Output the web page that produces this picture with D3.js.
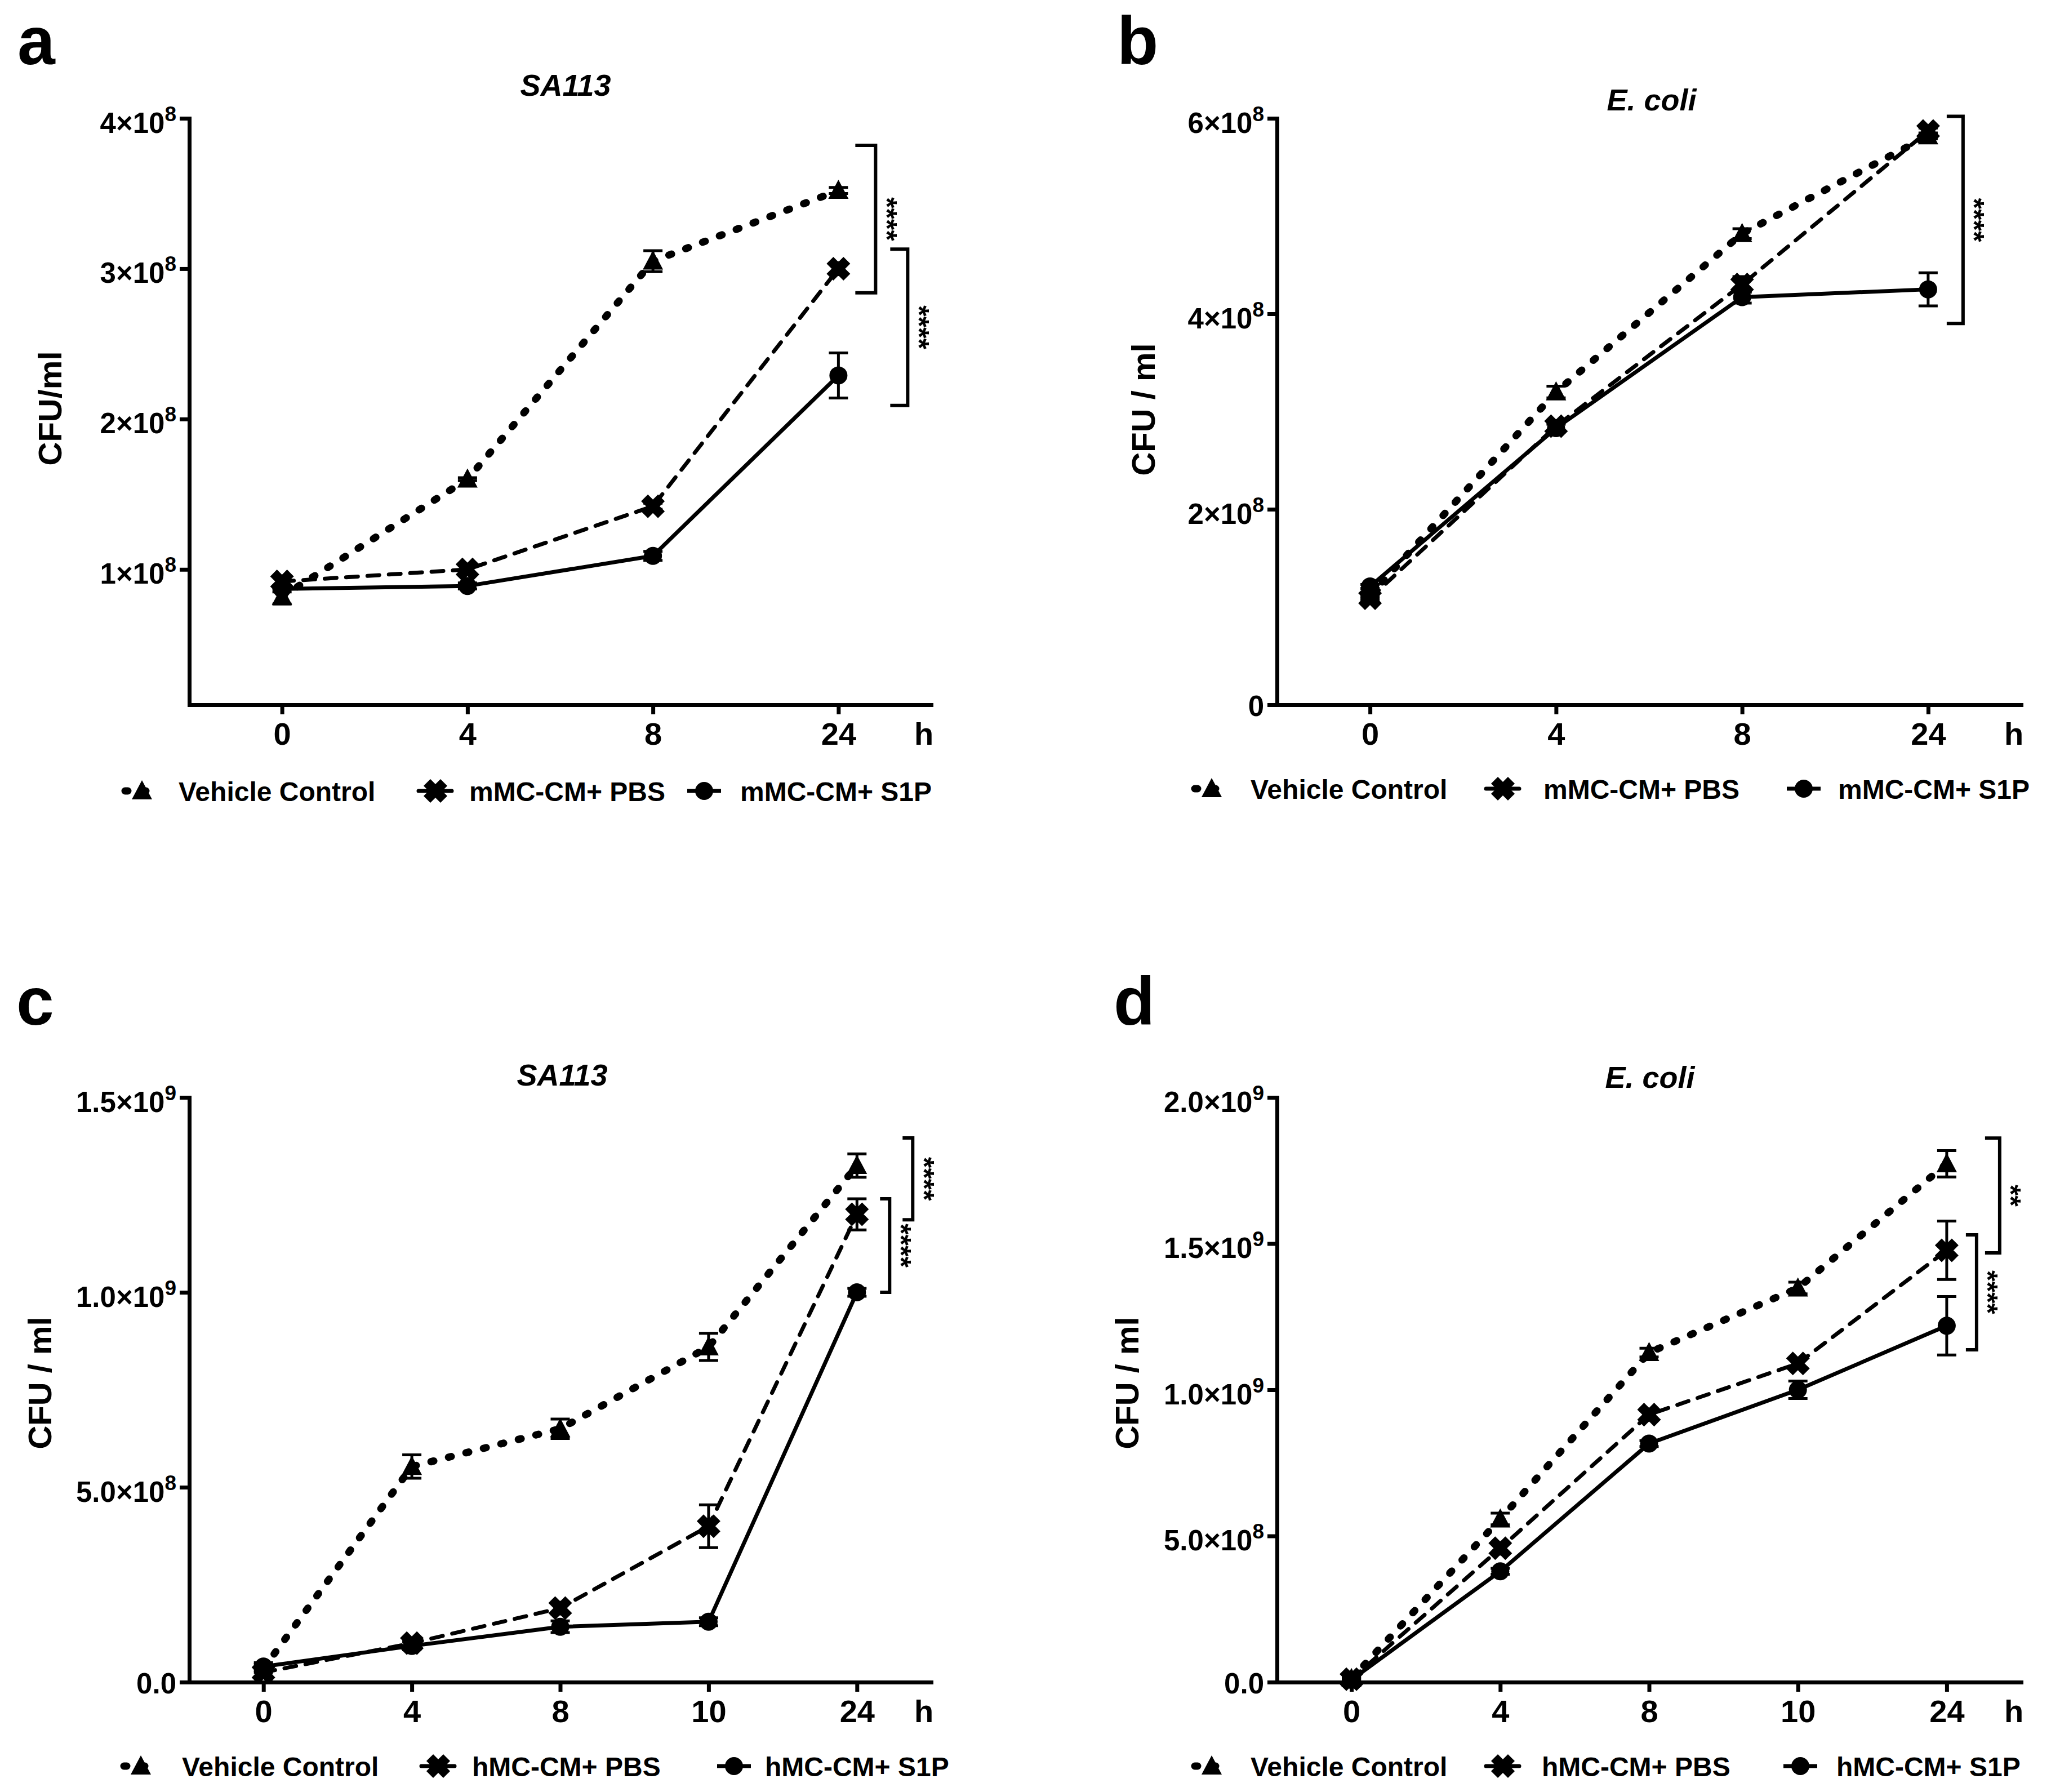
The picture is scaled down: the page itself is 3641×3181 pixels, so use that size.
<!DOCTYPE html>
<html lang="en">
<head>
<meta charset="UTF-8">
<title>CFU growth curves</title>
<style>
  body { margin: 0; background: #fff; }
  svg text { font-family: "Liberation Sans", Arial, sans-serif; font-weight: bold; fill: #000; }
</style>
</head>
<body>
<div id="chart"></div>
<script src="https://cdn.jsdelivr.net/npm/d3@7"></script>
<script>
// time points (h)
const hoursShort = ["0", "4", "8", "24"];
const hoursLong = ["0", "4", "8", "10", "24"];

const namesMouse = ["Vehicle Control", "mMC-CM+ PBS", "mMC-CM+ S1P"];
const namesHuman = ["Vehicle Control", "hMC-CM+ PBS", "hMC-CM+ S1P"];

// a : SA113, mouse MC supernatant (CFU/ml)
const vehicleA = [0.82e8, 1.60e8, 3.05e8, 3.52e8];
const vehicleErrA = [0.05e8, 0.01e8, 0.07e8, 0.02e8];
const pbsA = [0.92e8, 1.00e8, 1.42e8, 3.00e8];
const pbsErrA = [0.03e8, 0.03e8, 0.02e8, 0.04e8];
const s1pA = [0.87e8, 0.89e8, 1.09e8, 2.29e8];
const s1pErrA = [0.02e8, 0.02e8, 0.03e8, 0.15e8];

// b : E. coli, mouse MC supernatant
const vehicleB = [1.12e8, 3.20e8, 4.82e8, 5.82e8];
const vehicleErrB = [0.03e8, 0.06e8, 0.05e8, 0.03e8];
const pbsB = [1.09e8, 2.85e8, 4.30e8, 5.87e8];
const pbsErrB = [0.02e8, 0.05e8, 0.08e8, 0.03e8];
const s1pB = [1.21e8, 2.83e8, 4.17e8, 4.25e8];
const s1pErrB = [0.02e8, 0.04e8, 0.06e8, 0.17e8];

// c : SA113, human MC supernatant
const vehicleC = [0.035e9, 0.553e9, 0.65e9, 0.86e9, 1.325e9];
const vehicleErrC = [0.01e9, 0.03e9, 0.025e9, 0.035e9, 0.03e9];
const pbsC = [0.025e9, 0.10e9, 0.19e9, 0.40e9, 1.20e9];
const pbsErrC = [0.01e9, 0.01e9, 0.015e9, 0.055e9, 0.04e9];
const s1pC = [0.04e9, 0.093e9, 0.142e9, 0.155e9, 1.0e9];
const s1pErrC = [0.01e9, 0.01e9, 0.015e9, 0.01e9, 0.01e9];

// d : E. coli, human MC supernatant
const vehicleD = [0.012e9, 0.558e9, 1.127e9, 1.348e9, 1.773e9];
const vehicleErrD = [0.005e9, 0.02e9, 0.015e9, 0.02e9, 0.045e9];
const pbsD = [0.01e9, 0.458e9, 0.915e9, 1.09e9, 1.477e9];
const pbsErrD = [0.005e9, 0.02e9, 0.015e9, 0.015e9, 0.1e9];
const s1pD = [0.008e9, 0.379e9, 0.816e9, 1.0e9, 1.219e9];
const s1pErrD = [0.005e9, 0.01e9, 0.01e9, 0.03e9, 0.1e9];

// y ticks and their labels [mantissa part, exponent]
const yTicksA = [1e8, 2e8, 3e8, 4e8];
const yLabelsA = [["1×10", "8"], ["2×10", "8"], ["3×10", "8"], ["4×10", "8"]];
const yTicksB = [0, 2e8, 4e8, 6e8];
const yLabelsB = [["0", ""], ["2×10", "8"], ["4×10", "8"], ["6×10", "8"]];
const yTicksC = [0, 5e8, 1e9, 1.5e9];
const yLabelsC = [["0.0", ""], ["5.0×10", "8"], ["1.0×10", "9"], ["1.5×10", "9"]];
const yTicksD = [0, 5e8, 1e9, 1.5e9, 2e9];
const yLabelsD = [["0.0", ""], ["5.0×10", "8"], ["1.0×10", "9"], ["1.5×10", "9"], ["2.0×10", "9"]];

// significance brackets (value range at 24 h)
const bracketsA = [{ top: 3.82e8, bottom: 2.84e8, stars: "****" }, { top: 3.13e8, bottom: 2.09e8, stars: "****" }];
const bracketsB = [{ top: 6.02e8, bottom: 3.90e8, stars: "****" }];
const bracketsC = [{ top: 1.396e9, bottom: 1.186e9, stars: "****" }, { top: 1.24e9, bottom: 1.0e9, stars: "****" }];
const bracketsD = [{ top: 1.861e9, bottom: 1.468e9, stars: "**" }, { top: 1.53e9, bottom: 1.137e9, stars: "****" }];

// line / marker styles: vehicle dotted, PBS dashed, S1P solid
const styles = [
  { dash: "5,27", width: 13, marker: "triangle" },
  { dash: "21,17", width: 7, marker: "cross" },
  { dash: null, width: 7, marker: "circle" }
];

const svg = d3.select("#chart").append("svg")
  .attr("width", 3641).attr("height", 3181)
  .style("background", "#fff");

const drawMarker = (g, type, cx, cy) => {
  if (type === "triangle") {
    g.append("path").attr("d", `M${cx},${cy - 19}L${cx + 18},${cy + 15}L${cx - 18},${cy + 15}Z`).attr("fill", "#000");
  } else if (type === "cross") {
    g.append("path")
      .attr("d", `M${cx - 15},${cy - 15}L${cx + 15},${cy + 15}M${cx - 15},${cy + 15}L${cx + 15},${cy - 15}`)
      .attr("stroke", "#000").attr("stroke-width", 17).attr("fill", "none");
  } else {
    g.append("circle").attr("cx", cx).attr("cy", cy).attr("r", 16).attr("fill", "#000");
  }
};

const drawPanel = (p) => {
  const g = svg.append("g");
  const x = d3.scalePoint().domain(p.hours).range([p.left, p.right]).padding(0.5);
  const y = d3.scaleLinear().domain(p.yDomain).range([p.bottom, p.top]);

  // y axis
  const gy = g.append("g").attr("transform", `translate(${p.left},0)`)
    .call(d3.axisLeft(y).tickValues(p.yTicks).tickSize(17).tickSizeOuter(0).tickPadding(6).tickFormat(() => ""));
  gy.selectAll(".tick text").each(function (d, i) {
    const t = d3.select(this).attr("dy", null).attr("font-size", 51);
    const lab = p.yLabels[i];
    t.attr("y", lab[1] ? 25 : 19);
    t.append("tspan").text(lab[0]);
    if (lab[1]) t.append("tspan").attr("dy", -21).attr("font-size", 37).text(lab[1]);
  });

  // x axis
  const gx = g.append("g").attr("transform", `translate(0,${p.bottom})`)
    .call(d3.axisBottom(x).tickSize(17).tickSizeOuter(0).tickPadding(14));
  gx.selectAll(".tick text").attr("font-size", 56);

  [gx, gy].forEach(a => {
    a.attr("font-family", null).attr("font-size", null);
    a.select(".domain").attr("stroke-width", 7).attr("stroke-linecap", "square");
    a.selectAll(".tick line").attr("stroke-width", 7);
  });

  g.append("text").attr("x", p.right - 30).attr("y", p.bottom + 71)
    .attr("font-size", 56).text("h");

  // panel letter, title, y label
  g.append("text").attr("x", p.letterX).attr("y", p.letterY).attr("font-size", 120).text(p.letter);
  g.append("text").attr("x", p.titleX).attr("y", p.titleY).attr("text-anchor", "middle")
    .attr("font-size", 54).attr("font-style", "italic").text(p.title);
  g.append("text").attr("transform", `translate(${p.ylabX},${p.ylabY}) rotate(-90)`)
    .attr("text-anchor", "middle").attr("dy", "0.36em").attr("font-size", 58).text(p.ylab);

  // lines
  const line = d3.line().x((d, i) => x(p.hours[i])).y(d => y(d));
  p.series.forEach((s, k) => {
    const st = styles[k];
    g.append("path").attr("d", line(s.values))
      .attr("fill", "none").attr("stroke", "#000")
      .attr("stroke-width", st.width)
      .attr("stroke-dasharray", st.dash)
      .attr("stroke-linecap", st.dash ? "round" : "butt")
      .attr("stroke-linejoin", "round");
  });

  // error bars
  p.series.forEach(s => {
    s.values.forEach((v, i) => {
      const cx = x(p.hours[i]), e = s.errs[i];
      const y1 = y(v + e), y2 = y(v - e);
      g.append("path")
        .attr("d", `M${cx},${y1}V${y2}M${cx - 17},${y1}H${cx + 17}M${cx - 17},${y2}H${cx + 17}`)
        .attr("stroke", "#000").attr("stroke-width", 5).attr("fill", "none");
    });
  });

  // markers
  p.series.forEach((s, k) => {
    s.values.forEach((v, i) => drawMarker(g, styles[k].marker, x(p.hours[i]), y(v)));
  });

  // significance brackets
  const xLast = x(p.hours[p.hours.length - 1]);
  p.brackets.forEach((b, j) => {
    const bx = xLast + p.bracketDx[j], ax = xLast + p.armDx[j];
    const yt = y(b.top), yb = y(b.bottom);
    g.append("path").attr("d", `M${ax},${yt}H${bx}V${yb}H${ax}`)
      .attr("fill", "none").attr("stroke", "#000").attr("stroke-width", 6);
    g.append("text").attr("transform", `translate(${bx + 30},${(yt + yb) / 2}) rotate(90)`)
      .attr("text-anchor", "middle").attr("dy", "0.55em").attr("font-size", 50).text(b.stars);
  });

  // legend
  p.legend.forEach((it, k) => {
    const st = styles[k];
    g.append("path").attr("d", `M${it.cx - 30},${p.legendY}H${it.cx + 30}`)
      .attr("stroke", "#000").attr("stroke-width", st.width)
      .attr("stroke-dasharray", st.dash).attr("stroke-linecap", st.dash ? "round" : "butt");
    drawMarker(g, st.marker, it.cx, p.legendY);
    g.append("text").attr("x", it.tx).attr("y", p.legendY + 18).attr("font-size", 48).text(p.names[k]);
  });
};

drawPanel({
  letter: "a", letterX: 31, letterY: 114,
  title: "SA113", titleX: 1004, titleY: 170,
  ylab: "CFU/ml", ylabX: 88, ylabY: 725,
  left: 336, right: 1653, top: 210, bottom: 1251,
  yDomain: [1e7, 4e8], yTicks: yTicksA, yLabels: yLabelsA,
  hours: hoursShort, names: namesMouse,
  series: [
    { values: vehicleA, errs: vehicleErrA },
    { values: pbsA, errs: pbsErrA },
    { values: s1pA, errs: s1pErrA }
  ],
  brackets: bracketsA, bracketDx: [66, 123], armDx: [30, 92],
  legendY: 1404, legend: [{ cx: 252, tx: 317 }, { cx: 773, tx: 833 }, { cx: 1250, tx: 1314 }]
});

drawPanel({
  letter: "b", letterX: 1983, letterY: 114,
  title: "E. coli", titleX: 2932, titleY: 196,
  ylab: "CFU / ml", ylabX: 2029, ylabY: 727,
  left: 2267, right: 3588, top: 210, bottom: 1251,
  yDomain: [0, 6e8], yTicks: yTicksB, yLabels: yLabelsB,
  hours: hoursShort, names: namesMouse,
  series: [
    { values: vehicleB, errs: vehicleErrB },
    { values: pbsB, errs: pbsErrB },
    { values: s1pB, errs: s1pErrB }
  ],
  brackets: bracketsB, bracketDx: [62], armDx: [33],
  legendY: 1400, legend: [{ cx: 2151, tx: 2220 }, { cx: 2668, tx: 2740 }, { cx: 3202, tx: 3263 }]
});

drawPanel({
  letter: "c", letterX: 29, letterY: 1819,
  title: "SA113", titleX: 998, titleY: 1927,
  ylab: "CFU / ml", ylabX: 70, ylabY: 2455,
  left: 336, right: 1653, top: 1948, bottom: 2986,
  yDomain: [0, 1.5e9], yTicks: yTicksC, yLabels: yLabelsC,
  hours: hoursLong, names: namesHuman,
  series: [
    { values: vehicleC, errs: vehicleErrC },
    { values: pbsC, errs: pbsErrC },
    { values: s1pC, errs: s1pErrC }
  ],
  brackets: bracketsC, bracketDx: [99, 58], armDx: [81, 41],
  legendY: 3135, legend: [{ cx: 250, tx: 323 }, { cx: 778, tx: 838 }, { cx: 1303, tx: 1358 }]
});

drawPanel({
  letter: "d", letterX: 1977, letterY: 1819,
  title: "E. coli", titleX: 2929, titleY: 1931,
  ylab: "CFU / ml", ylabX: 2000, ylabY: 2455,
  left: 2267, right: 3588, top: 1948, bottom: 2986,
  yDomain: [0, 2e9], yTicks: yTicksD, yLabels: yLabelsD,
  hours: hoursLong, names: namesHuman,
  series: [
    { values: vehicleD, errs: vehicleErrD },
    { values: pbsD, errs: pbsErrD },
    { values: s1pD, errs: s1pErrD }
  ],
  brackets: bracketsD, bracketDx: [94, 53], armDx: [68, 34],
  legendY: 3135, legend: [{ cx: 2151, tx: 2220 }, { cx: 2668, tx: 2737 }, { cx: 3196, tx: 3260 }]
});
</script>
</body>
</html>
